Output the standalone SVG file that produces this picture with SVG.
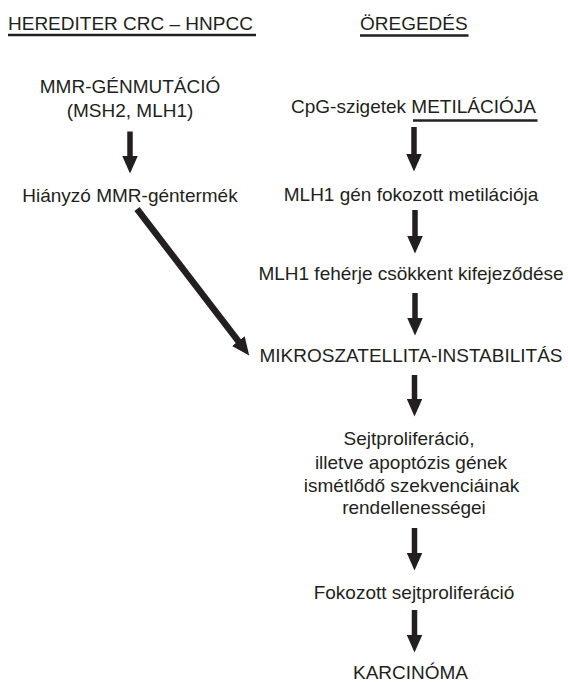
<svg xmlns="http://www.w3.org/2000/svg" width="568" height="682" viewBox="0 0 568 682">
<style>
text { font-family: "Liberation Sans", Arial, sans-serif; font-size: 19px; fill: #231f20; }
.c { text-anchor: middle; }
.ul { stroke: #231f20; stroke-width: 2.5; }
.arr { stroke: #231f20; stroke-width: 5.5; fill: none; marker-end: url(#head); }
</style>
<defs>
<marker id="head" markerUnits="userSpaceOnUse" viewBox="0 0 18 16" refX="0.5" refY="8" markerWidth="18" markerHeight="16" orient="auto">
<path d="M0,0 L18,8 L0,16 z" fill="#231f20"/>
</marker>
</defs>
<rect width="568" height="682" fill="#ffffff"/>
<g id="heading-left">
<text x="8" y="30">HEREDITER CRC – HNPCC</text>
<line class="ul" x1="8" y1="35" x2="256" y2="35"/>
</g>
<g id="heading-right">
<text x="360" y="30">ÖREGEDÉS</text>
<line class="ul" x1="360" y1="35.5" x2="468.5" y2="35.5"/>
</g>
<g id="mmr-mutation">
<text class="c" x="130" y="93">MMR-GÉNMUTÁCIÓ</text>
<text class="c" x="130" y="116.5">(MSH2, MLH1)</text>
</g>
<g id="missing-product">
<text class="c" x="130" y="201.5">Hiányzó MMR-géntermék</text>
</g>
<g id="cpg">
<text x="291" y="113.3">CpG-szigetek METILÁCIÓJA</text>
<line class="ul" x1="413" y1="120.5" x2="537.5" y2="120.5"/>
</g>
<g id="mlh1-gene">
<text class="c" x="411" y="201">MLH1 gén fokozott metilációja</text>
</g>
<g id="mlh1-protein">
<text class="c" x="411" y="280">MLH1 fehérje csökkent kifejeződése</text>
</g>
<g id="msi">
<text class="c" x="411" y="361.5">MIKROSZATELLITA-INSTABILITÁS</text>
</g>
<g id="repeats">
<text class="c" x="409" y="445">Sejtproliferáció,</text>
<text class="c" x="411" y="469">illetve apoptózis gének</text>
<text class="c" x="411.5" y="491.5">ismétlődő szekvenciáinak</text>
<text class="c" x="414" y="514">rendellenességei</text>
</g>
<g id="proliferation">
<text class="c" x="414" y="598.5">Fokozott sejtproliferáció</text>
</g>
<g id="carcinoma">
<text class="c" x="410.5" y="679">KARCINÓMA</text>
</g>
<g id="connectors">
<line class="arr" x1="130" y1="131.5" x2="130" y2="156"/>
<line class="arr" x1="414" y1="127" x2="414" y2="154"/>
<line class="arr" x1="415" y1="210" x2="415" y2="236"/>
<line class="arr" x1="415" y1="293" x2="415" y2="318"/>
<line class="arr" x1="414.5" y1="375" x2="414.5" y2="399"/>
<line class="arr" x1="414.5" y1="528" x2="414.5" y2="553"/>
<line class="arr" x1="414.5" y1="610" x2="414.5" y2="635"/>
<line class="arr" x1="137" y1="209" x2="238.6" y2="341.5" style="stroke-width:6.5"/>
</g>
</svg>
